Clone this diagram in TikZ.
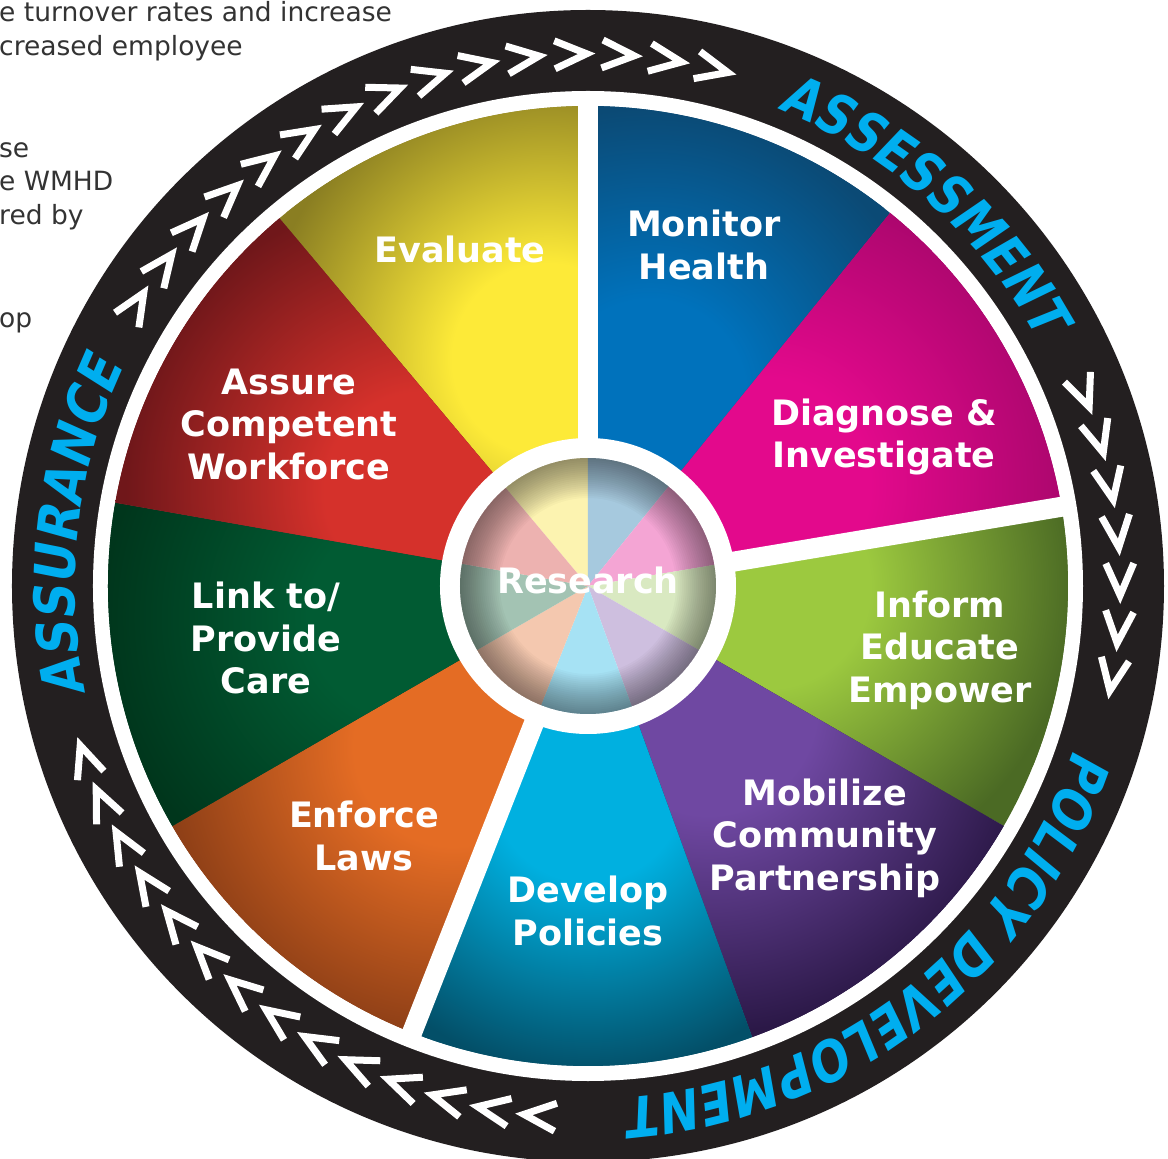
\documentclass[tikz,border=0pt]{standalone}
\usepackage{fontspec}
\newfontfamily\wheelfam{DejaVu Sans}
\definecolor{ringblack}{HTML}{231F20}
\definecolor{ringcyan}{HTML}{00AEEF}
\definecolor{bgtextcol}{HTML}{333333}
% wedge colours: bright / dark
\definecolor{yelB}{HTML}{FDEA38}\definecolor{yelD}{HTML}{8A7E22}
\definecolor{bluB}{HTML}{0072BC}\definecolor{bluD}{HTML}{0B4A75}
\definecolor{magB}{HTML}{E3098C}\definecolor{magD}{HTML}{A5066A}
\definecolor{limB}{HTML}{9CC93F}\definecolor{limD}{HTML}{4B6A24}
\definecolor{purB}{HTML}{6F48A2}\definecolor{purD}{HTML}{2B1847}
\definecolor{cyaB}{HTML}{00B0E0}\definecolor{cyaD}{HTML}{034F68}
\definecolor{oraB}{HTML}{E46C24}\definecolor{oraD}{HTML}{8A3D16}
\definecolor{grnB}{HTML}{015B33}\definecolor{grnD}{HTML}{00361C}
\definecolor{redB}{HTML}{D5312B}\definecolor{redD}{HTML}{70171A}
% pastel centre colours
\definecolor{yelP}{HTML}{FCF3B0}\definecolor{bluP}{HTML}{A6C9DE}
\definecolor{magP}{HTML}{F4A5D4}\definecolor{limP}{HTML}{D9E9C1}
\definecolor{purP}{HTML}{CEBFDF}\definecolor{cyaP}{HTML}{A6E2F4}
\definecolor{oraP}{HTML}{F4C8AF}\definecolor{grnP}{HTML}{A3C3B3}
\definecolor{redP}{HTML}{EDB2B0}
\colorlet{wbright}{white}\colorlet{wdark}{black}
% note: the path's bounding box maps to the central 25bp radius of the shading
\pgfdeclareradialshading[wbright,wdark]{wvign}{\pgfpoint{0bp}{0bp}}{color(0bp)=(wbright); color(8bp)=(wbright); color(24bp)=(wdark); color(50bp)=(wdark)}
\newcommand\kdeg{5.254}
\tikzset{
  bgtext/.style={font=\wheelfam\fontsize{26.5}{33.5}\selectfont, text=bgtextcol, inner sep=0, anchor=base west},
  lbl/.style={font=\wheelfam\bfseries\fontsize{35}{42.5}\selectfont, text=white, align=center, inner sep=0},
  sep/.style={white, line width=20},
  chevline/.style={white, line width=7, line cap=butt, line join=miter},
  chev/.pic={\draw[chevline] (-16,14) -- (16,0) -- (-16,-14);},
  ringletter/.style={font=\wheelfam\bfseries\fontsize{56}{56}\selectfont, text=ringcyan, inner sep=0, anchor=base}
}
\begin{document}
\begin{tikzpicture}[x=1pt,y=1pt]
\useasboundingbox (-588,-573) rectangle (580,586);
% background document text
\node[bgtext] (bg1) at (-589,564) {e turnover rates and increase};
\node[bgtext] (bg2) at (-589,530.5) {creased employee};
\node[bgtext] (bg3) at (-589,428) {se};
\node[bgtext] (bg4) at (-589,395.5) {e WMHD};
\node[bgtext] (bg5) at (-589,361) {red by};
\node[bgtext] (bg6) at (-589,258) {op};
% ring
\fill[ringblack] (0,0) circle (576);
\fill[white] (0,0) circle (495);
% wedges
\foreach \a/\b/\cb/\cd/\ca/\cr/\rs in {
  90/130/yelB/yelD/100/230/300,
  51/90/bluB/bluD/72/200/300,
  9.5/51/magB/magD/30/200/340,
  -30/9.5/limB/limD/0/180/320,
  -70/-30/purB/purD/-45/170/340,
  -111.5/-70/cyaB/cyaD/-90/200/300,
  -150/-111.5/oraB/oraD/-130/210/310,
  170/210/grnB/grnD/190/180/320,
  130/170/redB/redD/150/190/310}{
  \colorlet{wbright}{\cb}\colorlet{wdark}{\cd}
  \begin{scope}
    \clip (0,0) -- (\a:480) arc[start angle=\a, end angle=\b, radius=480] -- cycle;
    \fill[wdark] (-490,-490) rectangle (490,490);
    \shade[shading=wvign] (\ca:\cr) circle (\rs);
  \end{scope}
}
% separators
\draw[sep] (0,0) -- (90:490);
\draw[sep] (0,0) -- (9.5:490);
\draw[sep] (0,0) -- (-111.5:490);
% centre disk
\fill[white] (0,0) circle (148);
\foreach \a/\b/\c in {90/130/yelP,51/90/bluP,9.5/51/magP,-30/9.5/limP,-70/-30/purP,-111.5/-70/cyaP,-150/-111.5/oraP,170/210/grnP,130/170/redP}{
  \fill[\c] (0,0) -- (\a:128) arc[start angle=\a, end angle=\b, radius=128] -- cycle;
}
\foreach \k in {1,...,20}{
  \fill[black, opacity=0.022, even odd rule] (0,0) circle (128) circle ({128-2*\k});
}
% labels
\node[lbl] (evaluate) at (-128,337) {Evaluate};
\node[lbl] (monitor) at (116,341) {Monitor\\Health};
\node[lbl] (diagnose) at (296,149) {Diagnose \&\\Investigate};
\node[lbl] (inform) at (352,-64) {Inform\\Educate\\Empower};
\node[lbl] (mobilize) at (237,-252) {Mobilize\\Community\\Partnership};
\node[lbl] (develop) at (0,-325) {Develop\\Policies};
\node[lbl] (enforce) at (-224,-250) {Enforce\\Laws};
\node[lbl] (link) at (-322,-52) {Link to/\\Provide\\Care};
\node[lbl] (assure) at (-299,162) {Assure\\Competent\\Workforce};
\node[lbl] (research) at (0,6) {Research};
% ring texts, letter by letter (offsets in em from the word centre)
\foreach \ch/\o [count=\i] in {A/-3.3805,S/-2.6335,S/-1.9135,E/-1.212,S/-0.5105,S/0.2095,M/1.0675,E/1.907,N/2.667,T/3.4265}{
  \pgfmathsetmacro\th{48.6-\o*\kdeg}
  \node[ringletter, rotate=\th-90, xscale=0.84, xslant=0.18] (assess\i) at (\th:513) {\ch};
}
\foreach \ch/\o [count=\i] in {A/-3.025,S/-2.278,S/-1.558,U/-0.792,R/-0.001,A/0.771,N/1.5765,C/2.362,E/3.0705}{
  \pgfmathsetmacro\th{173.4-\o*\kdeg*1.04}
  \node[ringletter, rotate=\th-90, xscale=0.87, xslant=0.18] (assur\i) at (\th:513) {\ch};
}
\foreach \ch/\o [count=\i] in {P/-6.026,O/-5.235,L/-4.4915,I/-3.987,C/-3.434,Y/-2.705,D/-1.58,E/-0.8235,V/-0.095,E/0.6335,L/1.2935,O/2.037,P/2.828,M/3.692,E/4.5315,N/5.2915,T/6.051}{
  \pgfmathsetmacro\th{-52-\o*\kdeg}
  \node[ringletter, rotate=\th-90, xscale=0.84, xslant=0.18] (policy\i) at (\th:513) {\ch};
}
% chevrons
\foreach \i in {0,...,14}{
  \pic[rotate={148.3-\i*5.13-90}] at ({148.3-\i*5.13}:532) {chev};
}
\foreach \i in {0,...,6}{
  \pic[rotate={21.4-\i*5.17-90}] at ({21.4-\i*5.17}:532) {chev};
}
\foreach \i in {0,...,13}{
  \pic[rotate={264.8-\i*5.05-90}] at ({264.8-\i*5.05}:532) {chev};
}
\end{tikzpicture}
\end{document}
